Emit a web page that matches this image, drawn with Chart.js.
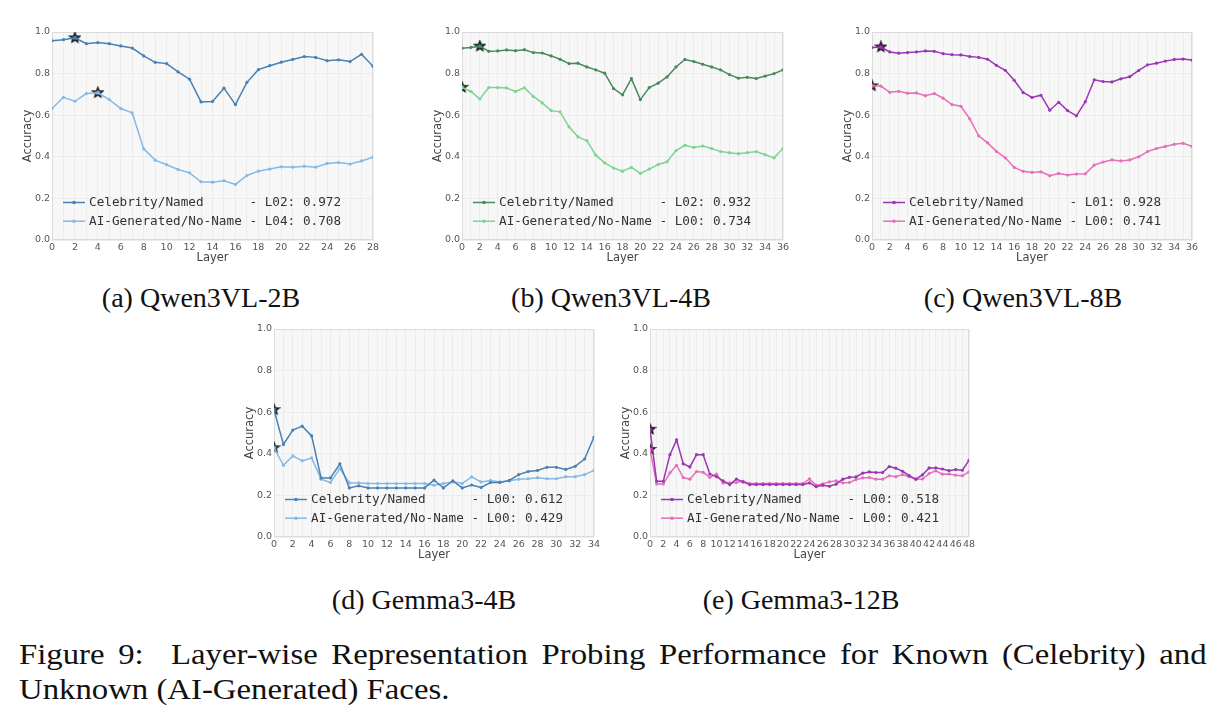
<!DOCTYPE html>
<html>
<head>
<meta charset="utf-8">
<script src="https://cdn.jsdelivr.net/npm/chart.js@4.4.1/dist/chart.umd.min.js"></script>
<style>
    body { margin: 0; background: #fff; width: 1222px; height: 723px; position: relative; overflow: hidden; }
    canvas { position: absolute; }
    .sub { position: absolute; font-family: "Liberation Serif", serif; font-size: 28px; color: #111; white-space: nowrap; transform: translate(-50%, -50%); }
    .figcap { position: absolute; left: 19px; width: 1051px; font-family: "Liberation Serif", serif; font-size: 29px; line-height: 35px; color: #111; white-space: nowrap; transform: scaleX(1.13); transform-origin: 0 0; }
    .just { text-align: justify; text-align-last: justify; white-space: normal; }
</style>
</head>
<body>
<canvas id="c-a" width="362" height="243" style="left:21px;top:22px"></canvas>
<canvas id="c-b" width="362" height="243" style="left:431px;top:22px"></canvas>
<canvas id="c-c" width="361" height="243" style="left:841px;top:22px"></canvas>
<canvas id="c-d" width="361" height="243" style="left:243px;top:319px"></canvas>
<canvas id="c-e" width="360" height="243" style="left:619px;top:319px"></canvas>

<div class="sub" style="left:201px;top:298px">(a) Qwen3VL-2B</div>
<div class="sub" style="left:611px;top:298px">(b) Qwen3VL-4B</div>
<div class="sub" style="left:1023px;top:298px">(c) Qwen3VL-8B</div>
<div class="sub" style="left:424px;top:600px">(d) Gemma3-4B</div>
<div class="sub" style="left:801px;top:600px">(e) Gemma3-12B</div>

<div class="figcap just" style="top:637px">Figure 9:&nbsp; Layer-wise Representation Probing Performance for Known (Celebrity) and</div>
<div class="figcap" style="top:672px">Unknown (AI-Generated) Faces.</div>

<script>
// accuracy per layer
const qwen2bCeleb = [0.958, 0.963, 0.972, 0.944, 0.949, 0.944, 0.933, 0.923, 0.885, 0.854, 0.848, 0.808, 0.773, 0.664, 0.666, 0.730, 0.651, 0.758, 0.819, 0.838, 0.855, 0.868, 0.882, 0.878, 0.862, 0.866, 0.858, 0.893, 0.835];
const qwen2bAI    = [0.632, 0.686, 0.667, 0.704, 0.708, 0.675, 0.632, 0.611, 0.438, 0.384, 0.362, 0.339, 0.323, 0.280, 0.278, 0.285, 0.267, 0.310, 0.331, 0.341, 0.352, 0.350, 0.355, 0.350, 0.368, 0.372, 0.365, 0.380, 0.398];

const qwen4bCeleb = [0.922, 0.926, 0.932, 0.907, 0.909, 0.914, 0.910, 0.915, 0.901, 0.899, 0.885, 0.869, 0.848, 0.850, 0.832, 0.818, 0.802, 0.728, 0.698, 0.776, 0.675, 0.733, 0.754, 0.784, 0.832, 0.868, 0.858, 0.845, 0.832, 0.818, 0.795, 0.778, 0.782, 0.776, 0.788, 0.800, 0.818];
const qwen4bAI    = [0.734, 0.714, 0.678, 0.733, 0.733, 0.731, 0.714, 0.732, 0.690, 0.659, 0.622, 0.616, 0.544, 0.496, 0.478, 0.408, 0.371, 0.346, 0.331, 0.349, 0.320, 0.341, 0.363, 0.376, 0.430, 0.455, 0.445, 0.452, 0.440, 0.425, 0.420, 0.415, 0.420, 0.425, 0.410, 0.395, 0.440];

const qwen8bCeleb = [0.925, 0.928, 0.904, 0.898, 0.901, 0.904, 0.909, 0.907, 0.896, 0.891, 0.890, 0.882, 0.878, 0.869, 0.840, 0.816, 0.768, 0.709, 0.685, 0.696, 0.624, 0.662, 0.622, 0.597, 0.665, 0.770, 0.762, 0.760, 0.775, 0.785, 0.815, 0.842, 0.850, 0.860, 0.868, 0.870, 0.865];
const qwen8bAI    = [0.741, 0.740, 0.710, 0.715, 0.706, 0.707, 0.694, 0.704, 0.682, 0.651, 0.643, 0.582, 0.501, 0.467, 0.426, 0.395, 0.349, 0.330, 0.325, 0.328, 0.309, 0.320, 0.312, 0.317, 0.318, 0.360, 0.375, 0.385, 0.380, 0.385, 0.400, 0.425, 0.440, 0.450, 0.460, 0.465, 0.450];

const gemma4bCeleb = [0.612, 0.445, 0.514, 0.533, 0.486, 0.284, 0.284, 0.352, 0.236, 0.246, 0.236, 0.236, 0.236, 0.236, 0.236, 0.236, 0.236, 0.273, 0.236, 0.270, 0.236, 0.250, 0.238, 0.262, 0.262, 0.272, 0.300, 0.315, 0.320, 0.335, 0.335, 0.325, 0.340, 0.375, 0.480];
const gemma4bAI    = [0.429, 0.345, 0.390, 0.366, 0.380, 0.278, 0.262, 0.329, 0.260, 0.260, 0.257, 0.257, 0.257, 0.257, 0.257, 0.257, 0.257, 0.249, 0.257, 0.265, 0.257, 0.289, 0.265, 0.272, 0.265, 0.270, 0.278, 0.280, 0.285, 0.280, 0.280, 0.290, 0.290, 0.300, 0.320];

const gemma12bCeleb = [0.518, 0.268, 0.268, 0.396, 0.467, 0.352, 0.337, 0.396, 0.396, 0.303, 0.290, 0.270, 0.252, 0.278, 0.265, 0.252, 0.252, 0.252, 0.252, 0.252, 0.252, 0.252, 0.252, 0.252, 0.260, 0.242, 0.249, 0.244, 0.254, 0.278, 0.287, 0.289, 0.307, 0.313, 0.310, 0.310, 0.339, 0.331, 0.316, 0.295, 0.278, 0.299, 0.332, 0.332, 0.327, 0.319, 0.324, 0.321, 0.368];
const gemma12bAI    = [0.421, 0.255, 0.255, 0.308, 0.345, 0.286, 0.278, 0.315, 0.311, 0.287, 0.302, 0.260, 0.260, 0.262, 0.268, 0.257, 0.257, 0.257, 0.257, 0.257, 0.257, 0.257, 0.257, 0.257, 0.279, 0.249, 0.255, 0.265, 0.270, 0.260, 0.262, 0.276, 0.284, 0.286, 0.278, 0.278, 0.294, 0.290, 0.300, 0.290, 0.278, 0.279, 0.305, 0.318, 0.302, 0.303, 0.297, 0.295, 0.313];

const yTicks = [0.0, 0.2, 0.4, 0.6, 0.8, 1.0];
const seriesNames = ['Celebrity/Named', 'AI-Generated/No-Name'];

const BLUE = ['#4a80b4', '#86b9e6'];
const GREEN = ['#468a5c', '#7fd391'];
const PURPLE = ['#9a36b4', '#e56fb9'];

const panels = [
    { id: 'c-a', series: [qwen2bCeleb, qwen2bAI], colors: BLUE },
    { id: 'c-b', series: [qwen4bCeleb, qwen4bAI], colors: GREEN },
    { id: 'c-c', series: [qwen8bCeleb, qwen8bAI], colors: PURPLE },
    { id: 'c-d', series: [gemma4bCeleb, gemma4bAI], colors: BLUE },
    { id: 'c-e', series: [gemma12bCeleb, gemma12bAI], colors: PURPLE }
];

function makeStar(fill) {
    const c = document.createElement('canvas');
    c.width = 13; c.height = 13;
    const g = c.getContext('2d');
    g.beginPath();
    for (let i = 0; i < 10; i++) {
        const r = i % 2 ? 2.2 : 5.2;
        const a = -Math.PI / 2 + i * Math.PI / 5;
        g.lineTo(6.5 + r * Math.cos(a), 6.5 + r * Math.sin(a));
    }
    g.closePath();
    g.fillStyle = fill;
    g.fill();
    g.lineWidth = 1.2;
    g.strokeStyle = '#000';
    g.stroke();
    return c;
}

const argmax = arr => arr.reduce((best, v, i) => v > arr[best] ? i : best, 0);
const toXY = arr => arr.map((v, i) => ({ x: i, y: v }));

// plot background + frame
const plotFrame = {
    id: 'plotFrame',
    beforeDraw(chart) {
        const { ctx, chartArea: a } = chart;
        ctx.save();
        ctx.fillStyle = '#f7f7f7';
        ctx.fillRect(a.left, a.top, a.width, a.height);
        ctx.restore();
    },
    beforeDatasetsDraw(chart) {
        const { ctx, chartArea: a } = chart;
        ctx.save();
        ctx.strokeStyle = '#dcdcdc';
        ctx.lineWidth = 1;
        ctx.strokeRect(a.left + 0.5, a.top + 0.5, a.width - 1, a.height - 1);
        ctx.restore();
    }
};

// matplotlib-like legend sitting inside the axes, lower left
const innerLegend = {
    id: 'innerLegend',
    afterDatasetsDraw(chart, args, opts) {
        const { ctx, chartArea: a } = chart;
        const rows = [a.bottom - 37.5, a.bottom - 18.8];
        ctx.save();
        ctx.font = '12.7px "DejaVu Sans Mono", monospace';
        ctx.textBaseline = 'middle';
        opts.items.forEach((it, i) => {
            const y = rows[i];
            ctx.strokeStyle = it.color;
            ctx.lineWidth = 1.5;
            ctx.beginPath();
            ctx.moveTo(a.left + 11, y);
            ctx.lineTo(a.left + 33, y);
            ctx.stroke();
            ctx.fillStyle = it.color;
            ctx.beginPath();
            ctx.arc(a.left + 22, y, 1.8, 0, Math.PI * 2);
            ctx.fill();
            ctx.fillStyle = '#333';
            ctx.fillText(it.text, a.left + 37, y + 0.5);
        });
        ctx.restore();
    }
};

panels.forEach(p => {
    const nLayers = p.series[0].length;
    const datasets = [];
    const items = [];
    p.series.forEach((vals, k) => {
        datasets.push({
            data: toXY(vals),
            borderColor: p.colors[k],
            backgroundColor: p.colors[k],
            borderWidth: 1.5,
            pointRadius: 1.6,
            pointBorderWidth: 0,
            pointHoverRadius: 0
        });
        const best = argmax(vals);
        items.push({
            color: p.colors[k],
            text: seriesNames[k].padEnd(20) + ' - L' + String(best).padStart(2, '0') + ': ' + vals[best].toFixed(3)
        });
    });
    // best-layer stars on top
    p.series.forEach((vals, k) => {
        const best = argmax(vals);
        datasets.push({
            data: [{ x: best, y: vals[best] }],
            showLine: false,
            pointStyle: makeStar(p.colors[k]),
            pointRadius: 5
        });
    });

    new Chart(document.getElementById(p.id), {
        type: 'line',
        data: { datasets },
        plugins: [plotFrame, innerLegend],
        options: {
            responsive: false,
            animation: false,
            events: [],
            layout: { padding: { top: 10, right: 10, left: 0, bottom: 0 } },
            plugins: {
                legend: { display: false },
                tooltip: { enabled: false },
                innerLegend: { items }
            },
            scales: {
                x: {
                    type: 'linear',
                    min: 0,
                    max: nLayers - 1,
                    border: { display: false },
                    grid: { color: '#e8e8e8', lineWidth: 0.8, drawTicks: false },
                    ticks: {
                        stepSize: 1,
                        autoSkip: false,
                        maxRotation: 0,
                        padding: 2,
                        color: '#555',
                        font: { family: 'DejaVu Sans', size: 9.5 },
                        callback: v => v % 2 === 0 ? String(v) : ''
                    },
                    title: { display: true, text: 'Layer', color: '#444', padding: 0, font: { family: 'DejaVu Sans', size: 11.5 } },
                    afterFit: s => { s.height = 25; }
                },
                y: {
                    min: 0,
                    max: 1,
                    border: { display: false },
                    grid: { color: '#e8e8e8', lineWidth: 0.8, drawTicks: false },
                    afterBuildTicks: s => { s.ticks = yTicks.map(v => ({ value: v })); },
                    ticks: {
                        padding: 2,
                        color: '#555',
                        font: { family: 'DejaVu Sans', size: 9.5 },
                        callback: v => v.toFixed(1)
                    },
                    title: { display: true, text: 'Accuracy', color: '#444', padding: 0, font: { family: 'DejaVu Sans', size: 11.5 } },
                    afterFit: s => { s.width = 31; }
                }
            }
        }
    });
});
</script>
</body>
</html>
